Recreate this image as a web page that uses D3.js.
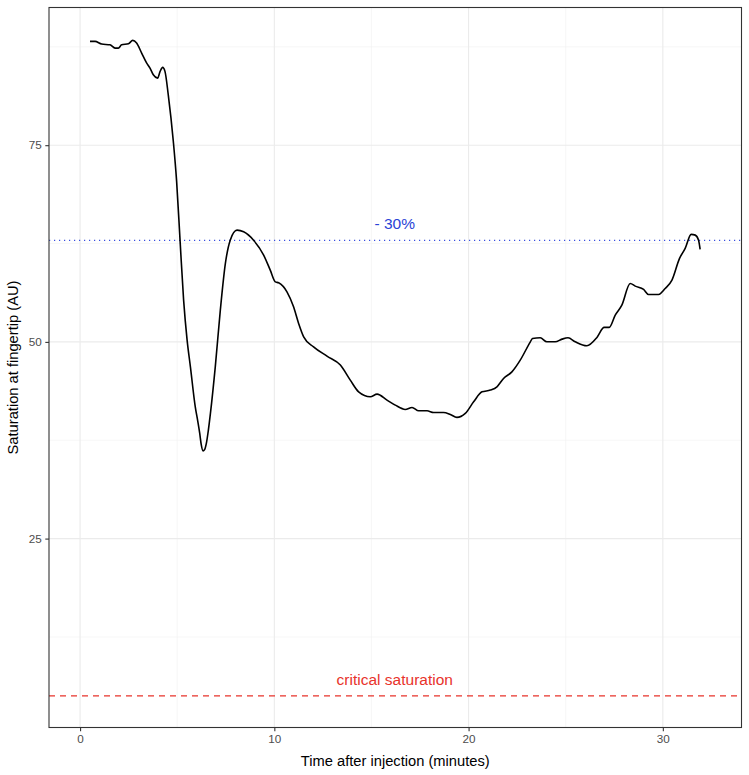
<!DOCTYPE html>
<html>
<head>
<meta charset="utf-8">
<script src="https://cdn.jsdelivr.net/npm/d3@7"></script>
<style>
  body { margin: 0; background: #fff; }
  svg { display: block; font-family: "Liberation Sans", Arial, sans-serif; }
</style>
</head>
<body>
<svg width="749" height="775"></svg>
<script>
// time after injection (minutes) and saturation (AU)
const timeMin = [0.51, 0.77, 1.11, 1.54, 1.80, 1.97, 2.14, 2.49, 2.71, 2.91, 3.17, 3.43, 3.60, 3.77, 3.99, 4.12, 4.25, 4.37, 4.54, 4.80, 4.97, 5.15,
  5.33, 5.51, 5.68, 5.93, 6.06, 6.16, 6.24, 6.33, 6.41, 6.50, 6.60, 6.71, 6.96, 7.22, 7.48, 7.73, 8.08, 8.42, 8.93, 9.45, 9.79, 10.05, 10.22, 10.65, 10.99, 11.25, 11.51,
  12.02, 12.71, 13.40, 13.91, 14.34, 14.94, 15.29, 15.80, 16.23, 16.74, 17.09, 17.43, 17.86, 18.20, 18.71, 19.06, 19.40, 19.83, 20.26, 20.69,
  21.12, 21.46, 21.80, 22.23, 22.66, 23.18, 23.29, 23.69, 24.03, 24.46, 24.81, 25.12, 25.49, 26.09, 26.61, 26.98, 27.24, 27.55, 27.89, 28.32,
  28.58, 29.01, 29.26, 29.78, 30.12, 30.47, 30.86, 31.15, 31.46, 31.67, 31.84, 31.92];
const saturation = [88.19, 88.19, 87.85, 87.76, 87.34, 87.34, 87.76, 87.89, 88.32, 87.98, 86.71, 85.43, 84.80, 83.95, 83.53, 84.38, 84.89, 84.38, 81.40, 75.48, 70.40, 62.77,
  55.31, 50.22, 46.83, 41.74, 39.9, 38.36, 36.9, 36.15, 36.3, 37.09, 38.7, 40.91, 46.83, 54.04, 59.97, 62.93, 64.20, 63.99, 62.93, 61.03, 59.12, 57.63, 57.51, 56.36, 54.46, 52.35, 50.64,
  49.37, 48.19, 47.05, 45.14, 43.65, 43.02, 43.36, 42.60, 41.96, 41.41, 41.67, 41.24, 41.24, 41.03, 41.03, 40.78, 40.40, 40.91, 42.38, 43.65,
  43.87, 44.29, 45.35, 46.19, 47.68, 50.01, 50.44, 50.52, 50.01, 50.01, 50.35, 50.52, 50.01, 49.50, 50.57, 51.84, 51.84, 53.40, 54.67, 57.43,
  57.09, 56.67, 56.03, 56.03, 56.79, 57.85, 60.61, 61.88, 63.66, 63.57, 62.93, 61.75];

const xTicks = [0, 10, 20, 30];
const xMinor = [5, 15, 25];
const yTicks = [25, 50, 75];
const yMinor = [12.5, 37.5, 62.5, 87.5];

const refLevel = 62.9;       // -30% line
const criticalLevel = 5;     // critical saturation line
const refLabel = "- 30%";
const criticalLabel = "critical saturation";
const labelTime = 16.2;
const refLabelY = 65;
const criticalLabelY = 7.1;

const svg = d3.select("svg");
const margin = {top: 7.5, right: 7.5, bottom: 47.5, left: 49};
const width = 749 - margin.left - margin.right;
const height = 775 - margin.top - margin.bottom;

const x = d3.scaleLinear().domain([-1.6, 34.05]).range([0, width]);
const y = d3.scaleLinear().domain([0.99, 92.5]).range([height, 0]);

const g = svg.append("g").attr("transform", "translate(" + margin.left + "," + margin.top + ")");

// grid
g.selectAll(".minor-x").data(xMinor).enter().append("line")
  .attr("x1", d => x(d)).attr("x2", d => x(d)).attr("y1", 0).attr("y2", height)
  .attr("stroke", "#f2f2f2").attr("stroke-width", 0.6);
g.selectAll(".minor-y").data(yMinor).enter().append("line")
  .attr("y1", d => y(d)).attr("y2", d => y(d)).attr("x1", 0).attr("x2", width)
  .attr("stroke", "#f2f2f2").attr("stroke-width", 0.6);
g.selectAll(".major-x").data(xTicks).enter().append("line")
  .attr("x1", d => x(d)).attr("x2", d => x(d)).attr("y1", 0).attr("y2", height)
  .attr("stroke", "#ebebeb").attr("stroke-width", 1.1);
g.selectAll(".major-y").data(yTicks).enter().append("line")
  .attr("y1", d => y(d)).attr("y2", d => y(d)).attr("x1", 0).attr("x2", width)
  .attr("stroke", "#ebebeb").attr("stroke-width", 1.1);

// reference lines
g.append("line")
  .attr("x1", 0).attr("x2", width).attr("y1", y(refLevel)).attr("y2", y(refLevel))
  .attr("stroke", "#3a4fe0").attr("stroke-width", 1.2).attr("stroke-dasharray", "1.2,3.8");
g.append("line")
  .attr("x1", 0).attr("x2", width).attr("y1", y(criticalLevel)).attr("y2", y(criticalLevel))
  .attr("stroke", "#e8332b").attr("stroke-width", 1.3).attr("stroke-dasharray", "6,5");

// curve
const line = d3.line()
  .x((d, i) => x(timeMin[i]))
  .y(d => y(d))
  .curve(d3.curveMonotoneX);
g.append("path")
  .datum(saturation)
  .attr("fill", "none")
  .attr("stroke", "#000")
  .attr("stroke-width", 1.6)
  .attr("stroke-linejoin", "round")
  .attr("d", line);

// annotations
g.append("text")
  .attr("x", x(labelTime)).attr("y", y(refLabelY)).attr("dy", "0.35em")
  .attr("text-anchor", "middle").attr("font-size", 15.5).attr("fill", "#2a43d6")
  .text(refLabel);
g.append("text")
  .attr("x", x(labelTime)).attr("y", y(criticalLabelY)).attr("dy", "0.35em")
  .attr("text-anchor", "middle").attr("font-size", 15.5).attr("fill", "#e8332b")
  .text(criticalLabel);

// panel border
g.append("rect").attr("width", width).attr("height", height)
  .attr("fill", "none").attr("stroke", "#333").attr("stroke-width", 1.1);

// axes
const xAxis = g.append("g").attr("transform", "translate(0," + height + ")")
  .call(d3.axisBottom(x).tickValues(xTicks).tickSize(3.7).tickPadding(3).tickFormat(d3.format("d")));
const yAxis = g.append("g")
  .call(d3.axisLeft(y).tickValues(yTicks).tickSize(3.7).tickPadding(3.5).tickFormat(d3.format("d")));
[xAxis, yAxis].forEach(a => {
  a.select(".domain").remove();
  a.selectAll(".tick line").attr("stroke", "#333").attr("stroke-width", 1.1);
  a.selectAll(".tick text").attr("fill", "#4d4d4d").attr("font-size", 11.7)
    .attr("font-family", "Liberation Sans, Arial, sans-serif");
});

// axis titles
svg.append("text")
  .attr("x", margin.left + width / 2).attr("y", 766)
  .attr("text-anchor", "middle").attr("font-size", 14.7).attr("fill", "#000")
  .text("Time after injection (minutes)");
svg.append("text")
  .attr("transform", "translate(18," + (margin.top + height / 2) + ") rotate(-90)")
  .attr("text-anchor", "middle").attr("font-size", 14.7).attr("fill", "#000")
  .text("Saturation at fingertip (AU)");
</script>
</body>
</html>
